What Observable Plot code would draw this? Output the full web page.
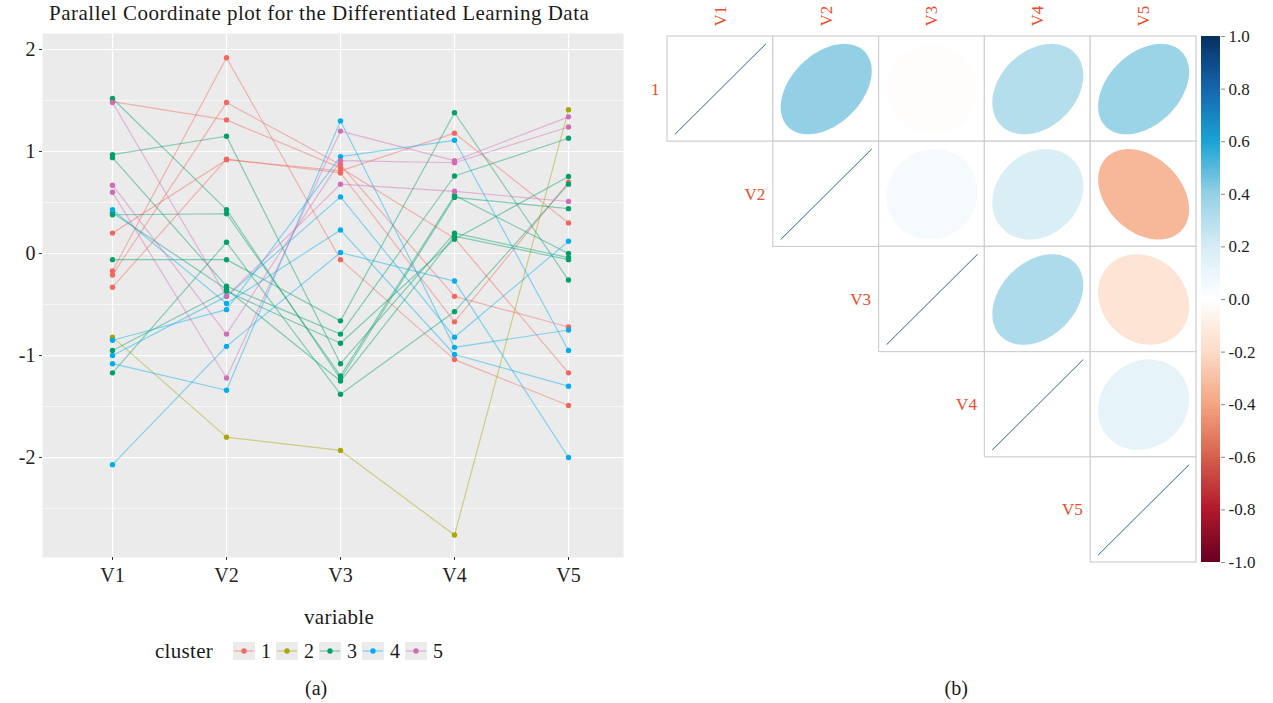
<!DOCTYPE html>
<html><head><meta charset="utf-8">
<script src="https://cdn.jsdelivr.net/npm/d3@7"></script>
<script src="https://cdn.jsdelivr.net/npm/@observablehq/plot@0.6"></script>
<style>
body{margin:0;background:#fff;font-family:"Liberation Serif",serif;}
#wrap{position:relative;width:1273px;height:703px;overflow:hidden;background:#fff;}
.abs{position:absolute;white-space:nowrap;}
</style></head><body><div id="wrap"></div>
<script>
// ---------- data: parallel coordinates ----------
const variables = ["V1","V2","V3","V4","V5"];
const clusterIds = ["1","2","3","4","5"];
const clusterColors = ["#F2685E","#A8A600","#00A06A","#00ADEF","#D06CB8"];
const obsCluster = ["1","1","1","1","1","2","3","3","3","3","3","3","3","3","4","4","4","4","4","5","5","5"];
const valV1 = [1.49,-0.17,-0.21,0.20,-0.33,-0.82, 1.52,0.97,0.94,0.38,-0.06,-0.95,-1.17,0.40, 0.43,-0.85,-1.00,-1.08,-2.07, 1.48,0.67,0.60];
const valV2 = [1.31,1.92,1.48,0.92,0.925,-1.80, 0.43,1.15,-0.32,0.39,-0.06,-0.37,0.11,-0.35, -0.49,-0.55,-0.42,-1.34,-0.91, -0.42,-0.79,-1.22];
const valV3 = [0.84,-0.06,0.87,0.81,0.79,-1.93, -1.23,-1.08,-0.79,-1.20,-0.66,-0.88,-1.38,-1.25, 0.23,0.95,0.555,1.30,0.01, 0.68,0.91,1.20];
const valV4 = [0.15,-1.04,-0.42,1.18,-0.67,-2.76, 0.55,0.20,0.76,0.57,1.38,0.14,-0.57,0.17, -0.99,1.11,-0.82,-0.92,-0.27, 0.61,0.89,0.91];
const valV5 = [-1.17,-1.49,-0.72,0.30,0.70,1.41, 0.44,-0.04,1.13,-0.00,-0.26,0.755,0.68,-0.06, -1.30,-0.95,0.12,-0.75,-2.00, 0.51,1.24,1.34];
const yTicks = [2,1,0,-1,-2];
const yMinor = [1.5,0.5,-0.5,-1.5,-2.5];

// ---------- data: correlation plot ----------
const corrColNames = ["V1","V2","V3","V4","V5"];
const corrRowNames = ["1","V2","V3","V4","V5"];
const corrMatrix = [
  [1, 0.40, -0.01, 0.30, 0.38],
  [null, 1, 0.05, 0.18, -0.33],
  [null, null, 1, 0.32, -0.15],
  [null, null, null, 1, 0.12],
  [null, null, null, null, 1]
];
const colorbarTicks = [1.0,0.8,0.6,0.4,0.2,0.0,-0.2,-0.4,-0.6,-0.8,-1.0];
const corrPalette = ["#67001F","#B2182B","#D6604D","#F4A582","#FDDBC7","#FFFFFF","#D6ECF5","#94D0E5","#1AA3D4","#1565AD","#053061"];

const wrap = document.getElementById("wrap");
function place(node, left, top){ node.style.position="absolute"; node.style.left=left+"px"; node.style.top=top+"px"; wrap.appendChild(node); return node; }
function txt(s, cx, cy, size, ls){
  const d=document.createElement("div"); d.className="abs"; d.textContent=s;
  d.style.fontSize=size+"px"; d.style.color="#1a1a1a"; d.style.lineHeight="1";
  if(ls) d.style.letterSpacing=ls+"px";
  wrap.appendChild(d);
  const w=d.offsetWidth, h=d.offsetHeight;
  d.style.left=(cx-w/2)+"px"; d.style.top=(cy-h/2)+"px";
  return d;
}

// long table
const cols=[valV1,valV2,valV3,valV4,valV5];
const long=[];
obsCluster.forEach((c,i)=>variables.forEach((v,k)=>long.push({id:i,cluster:c,variable:v,value:cols[k][i]})));

const left = Plot.plot({
  width:640, height:600,
  marginLeft:42, marginRight:17, marginTop:33, marginBottom:43,
  style:{fontFamily:"Liberation Serif, serif", fontSize:"20px", background:"transparent", color:"#333"},
  x:{type:"point", domain:variables, range:[110,569], padding:0, axis:null},
  y:{domain:[-2.98,2.157], axis:null},
  color:{domain:clusterIds, range:clusterColors},
  marks:[
    Plot.frame({fill:"#EBEBEB", stroke:null}),
    Plot.ruleY(yMinor,{stroke:"#fff", strokeWidth:0.6}),
    Plot.ruleY(yTicks,{stroke:"#fff", strokeWidth:1.2}),
    Plot.ruleX(variables,{stroke:"#fff", strokeWidth:1.2}),
    Plot.line(long,{x:"variable", y:"value", z:"id", stroke:"cluster", strokeOpacity:0.45, strokeWidth:1.2}),
    Plot.dot(long,{x:"variable", y:"value", fill:"cluster", r:2.7, stroke:null}),
    Plot.axisY(yTicks,{tickFormat:d=>String(d), tickSize:3, tickPadding:4, stroke:"#333", fill:"#222", fontSize:20, label:null}),
    Plot.axisX(variables,{tickSize:3, tickPadding:7, stroke:"#333", fill:"#222", fontSize:20, label:null, style:{letterSpacing:"1px"}})
  ]
});
place(left,0,0);

txt("Parallel Coordinate plot for the Differentiated Learning Data",319,13,21,0.5);
txt("variable",339,617,21,0.3);
txt("(a)",316,688,20);
txt("(b)",956,688,20);

// legend
const lg=document.createElement("div"); lg.className="abs";
lg.style.display="flex"; lg.style.alignItems="center"; lg.style.fontSize="20px"; lg.style.color="#1a1a1a";
const cl=document.createElement("span"); cl.textContent="cluster"; cl.style.fontSize="21px"; cl.style.marginRight="20px"; cl.style.letterSpacing="0.3px"; lg.appendChild(cl);
clusterIds.forEach((c,i)=>{
  const s=document.createElementNS("http://www.w3.org/2000/svg","svg");
  s.setAttribute("width",22); s.setAttribute("height",18);
  s.innerHTML=`<rect width="22" height="18" fill="#EBEBEB"/><line x1="1" x2="21" y1="9" y2="9" stroke="${clusterColors[i]}" stroke-opacity="0.5" stroke-width="1.2"/><circle cx="11" cy="9" r="2.7" fill="${clusterColors[i]}"/>`;
  lg.appendChild(s);
  const t=document.createElement("span"); t.textContent=c; t.style.margin="0 5px 0 6px"; lg.appendChild(t);
});
wrap.appendChild(lg);
lg.style.left="155px"; lg.style.top=(651-lg.offsetHeight/2)+"px";

// ---------- correlation plot ----------
const cells=[];
corrMatrix.forEach((row,i)=>row.forEach((r,j)=>{ if(r!==null) cells.push({row:i+1,col:j+1,r}); }));
const ell=[];
cells.forEach((c,idx)=>{
  if(c.row===c.col) return;
  const a=Math.acos(c.r)/2;
  for(let k=0;k<120;k++){ const t=2*Math.PI*k/120;
    ell.push({cell:idx, r:c.r, x:c.col+0.43*Math.cos(t+a), y:c.row-0.43*Math.cos(t-a)}); }
});
const diag=cells.filter(c=>c.row===c.col);
const corrColorScale={type:"linear", domain:d3.range(11).map(i=>-1+i*0.2), range:corrPalette, interpolate:"rgb"};
const right = Plot.plot({
  width:633, height:703, margin:0,
  style:{fontFamily:"Liberation Serif, serif", background:"transparent"},
  x:{domain:[0.5,5.5], range:[27,556], axis:null},
  y:{domain:[0.5,5.5], range:[36,562], axis:null},
  color:corrColorScale,
  marks:[
    Plot.rect(cells,{x1:d=>d.col-0.5, x2:d=>d.col+0.5, y1:d=>d.row-0.5, y2:d=>d.row+0.5, fill:"#fff", stroke:"#cfcfcf", strokeWidth:1.2}),
    Plot.line(ell,{x:"x", y:"y", z:"cell", fill:"r", stroke:null, curve:"linear-closed"}),
    Plot.link(diag,{x1:d=>d.col-0.43, y1:d=>d.row+0.43, x2:d=>d.col+0.43, y2:d=>d.row-0.43, stroke:"#2e6296", strokeWidth:1}),
    Plot.text(corrRowNames,{x:(d,i)=>i+0.5, y:(d,i)=>i+1, text:d=>d, textAnchor:"end", dx:-8, fill:"#EE4B2B", fontSize:17}),
    Plot.text(corrColNames,{x:(d,i)=>i+1, y:0.5, text:d=>d, rotate:-90, textAnchor:"start", dy:-10, fill:"#EE4B2B", fontSize:17})
  ]
});
place(right,640,0);

const bands=d3.range(200).map(i=>({lo:-1+i*0.01, hi:Math.min(1,-1+(i+1)*0.01+0.004), v:-1+(i+0.5)*0.01}));
const cbar = Plot.plot({
  width:83, height:703, marginLeft:11, marginRight:53, marginTop:36, marginBottom:141,
  style:{fontFamily:"Liberation Serif, serif", background:"transparent", fontSize:"17px"},
  x:{domain:[0,1], axis:null},
  y:{domain:[-1,1], axis:null},
  color:corrColorScale,
  marks:[
    Plot.rect(bands,{x1:0, x2:1, y1:"lo", y2:"hi", fill:"v", inset:0, shapeRendering:"crispEdges"}),
    Plot.axisY(colorbarTicks,{anchor:"right", tickFormat:d=>d.toFixed(1), tickSize:4, tickPadding:4, stroke:"#888", fill:"#222", fontSize:17, label:null})
  ]
});
place(cbar,1190,0);
</script></body></html>
